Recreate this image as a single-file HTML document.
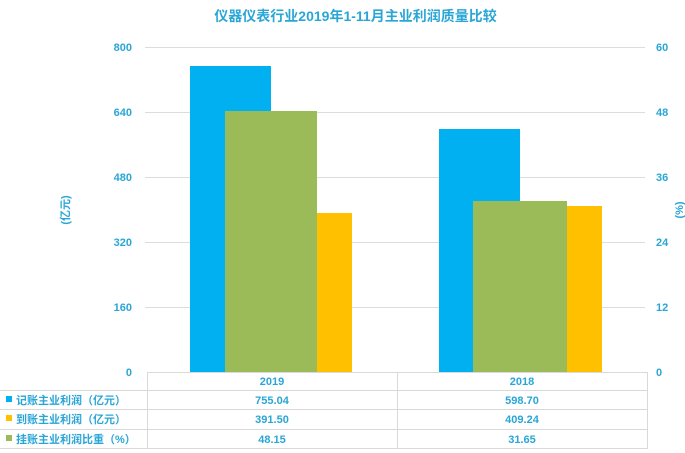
<!DOCTYPE html>
<html><head><meta charset="utf-8"><style>
body{margin:0;background:#fff;font-family:"Liberation Sans","Noto Sans CJK SC",sans-serif;}
.a{position:absolute;}
</style></head><body>
<div style="position:relative;width:685px;height:453px;overflow:hidden">
<div class="a" style="left:0;width:685px;top:6px;text-align:center;color:#2aa6d6;font-size:14px;font-weight:bold;padding-left:26px;box-sizing:border-box">仪器仪表行业2019年1-11月主业利润质量比较</div>
<svg class="a" style="left:0;top:0" width="685" height="453">
<g stroke="#dcdcdc" stroke-width="1">
<line x1="145" x2="645" y1="47.5" y2="47.5"/><line x1="145" x2="645" y1="112.5" y2="112.5"/>
<line x1="145" x2="645" y1="177.5" y2="177.5"/><line x1="145" x2="645" y1="242.5" y2="242.5"/>
<line x1="145" x2="645" y1="307.5" y2="307.5"/>
</g>
<rect x="190" y="66" width="81" height="306" fill="#00b0f0"/>
<rect x="317" y="213" width="35" height="159" fill="#ffc000"/>
<rect x="225" y="111" width="92" height="261" fill="#9bbb59"/>
<rect x="439" y="129" width="81" height="243" fill="#00b0f0"/>
<rect x="567" y="206" width="35" height="166" fill="#ffc000"/>
<rect x="473" y="201" width="94" height="171" fill="#9bbb59"/>
<g stroke="#d9d9d9" stroke-width="1" fill="none">
<line x1="147" x2="647" y1="372.5" y2="372.5"/>
<line x1="0" x2="647" y1="390.5" y2="390.5"/>
<line x1="0" x2="647" y1="409.5" y2="409.5"/>
<line x1="0" x2="647" y1="429.5" y2="429.5"/>
<line x1="0" x2="647" y1="448.5" y2="448.5"/>
<line x1="147.5" x2="147.5" y1="372" y2="449"/>
<line x1="397.5" x2="397.5" y1="372" y2="449"/>
<line x1="647.5" x2="647.5" y1="372" y2="449"/>
</g>
<g fill="#2aa6d6" font-size="11" font-weight="bold" font-family="Liberation Sans,sans-serif">
<g text-anchor="end">
<text x="132" y="51">800</text><text x="132" y="116">640</text><text x="132" y="181">480</text>
<text x="132" y="246">320</text><text x="132" y="311">160</text><text x="132" y="376">0</text>
</g>
<g text-anchor="start">
<text x="656" y="51">60</text><text x="656" y="116">48</text><text x="656" y="181">36</text>
<text x="656" y="246">24</text><text x="656" y="311">12</text><text x="656" y="376">0</text>
</g>
<g text-anchor="middle">
<text x="272" y="385">2019</text><text x="522" y="385">2018</text>
<text x="272" y="404">755.04</text><text x="522" y="404">598.70</text>
<text x="272" y="423">391.50</text><text x="522" y="423">409.24</text>
<text x="272" y="443">48.15</text><text x="522" y="443">31.65</text>
</g>
<text transform="translate(69,210) rotate(-90)" text-anchor="middle" font-family="Liberation Sans,Noto Sans CJK SC,sans-serif">(亿元)</text>
<text transform="translate(683,210) rotate(-90)" text-anchor="middle">(%)</text>
<g font-family="Liberation Sans,Noto Sans CJK SC,sans-serif">
<text x="16" y="404">记账主业利润（亿元）</text>
<text x="16" y="423">到账主业利润（亿元）</text>
<text x="16" y="443">挂账主业利润比重（%）</text>
</g>
</g>
<rect x="6" y="396" width="6" height="6" fill="#00b0f0"/>
<rect x="6" y="415" width="6" height="6" fill="#ffc000"/>
<rect x="6" y="435" width="6" height="6" fill="#9bbb59"/>
</svg>
</div>
</body></html>
